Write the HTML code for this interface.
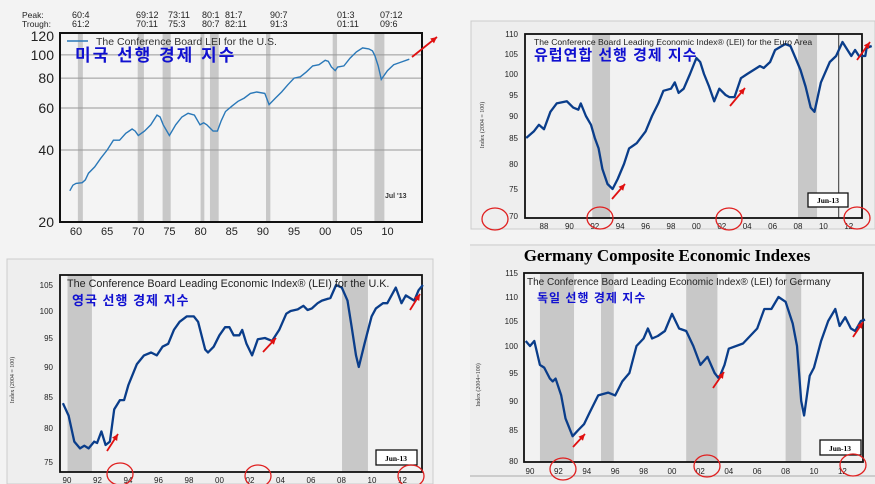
<!DOCTYPE html>
<html><head><meta charset="utf-8"><style>
html,body{margin:0;padding:0;background:#f3f3f3;}
svg{display:block;font-family:"Liberation Sans",sans-serif;}
.k{font-family:"Liberation Sans","Noto Sans CJK KR","NanumGothic",sans-serif;font-weight:bold;fill:#1010d0;}
</style></head><body>
<svg id="s" width="875" height="484" viewBox="0 0 875 484" xmlns="http://www.w3.org/2000/svg"></svg>
<script>
const S=document.getElementById('s');let h='';
h+='<rect x="0" y="0" width="875" height="484" fill="#f3f3f3"/>';
function interp(t,v){for(let i=0;i<t.length-1;i++){if((v>=t[i][0]&&v<=t[i+1][0])||(v<=t[i][0]&&v>=t[i+1][0])){let a=t[i],b=t[i+1];return a[1]+(v-a[0])/(b[0]-a[0])*(b[1]-a[1]);}}let a=t[t.length-2],b=t[t.length-1];return a[1]+(v-a[0])/(b[0]-a[0])*(b[1]-a[1]);}
function path(d,fx,fy){return d.map((p,i)=>(i?'L':'M')+fx(p[0]).toFixed(1)+' '+fy(p[1]).toFixed(1)).join(' ');}
function arrow(x1,y1,x2,y2){let a=Math.atan2(y2-y1,x2-x1),l=7;let p1=[x2-l*Math.cos(a-0.45),y2-l*Math.sin(a-0.45)],p2=[x2-l*Math.cos(a+0.45),y2-l*Math.sin(a+0.45)];
return `<line x1="${x1}" y1="${y1}" x2="${x2}" y2="${y2}" stroke="#e01010" stroke-width="1.8"/><polygon points="${x2},${y2} ${p1[0]},${p1[1]} ${p2[0]},${p2[1]}" fill="#e01010"/>`;}
function circ(x,y){return `<ellipse cx="${x}" cy="${y}" rx="13" ry="11" fill="none" stroke="#e02020" stroke-width="1.3"/>`;}
// ===== US =====
{const fx=y=>76+(y-1960)*6.23, fy=v=>222-Math.log(v/20)/Math.log(6)*186;
h+='<rect x="60" y="33" width="362" height="189" fill="#f4f4f4"/>';
[[1960.3,1961.1],[1969.9,1970.9],[1973.9,1975.2],[1980,1980.6],[1981.5,1982.9],[1990.5,1991.2],[2001.2,2001.9],[2007.9,2009.5]].forEach(r=>h+=`<rect x="${fx(r[0])}" y="34" width="${fx(r[1])-fx(r[0])}" height="188" fill="#c8c8c8"/>`);
[100,80,60,40].forEach(v=>h+=`<line x1="60" x2="422" y1="${fy(v)}" y2="${fy(v)}" stroke="#999" stroke-width="1"/>`);
[[120,36],[100,55],[80,78],[60,108],[40,150],[20,222]].forEach(t=>h+=`<text x="54" y="${t[1]+5}" font-size="14" text-anchor="end" fill="#222">${t[0]}</text>`);
['60','65','70','75','80','85','90','95','00','05','10'].forEach((l,i)=>h+=`<text x="${76+i*31.15}" y="235" font-size="11" text-anchor="middle" fill="#222">${l}</text>`);
h+='<rect x="60" y="33" width="362" height="189" fill="none" stroke="#111" stroke-width="2"/>';
const d=[[1959,27],[1959.5,28.5],[1960,29],[1961,29.2],[1961.5,30],[1962,32],[1963,34],[1964,37],[1965,40],[1966,44],[1967,44],[1968,47],[1969,49],[1969.5,48],[1970,46],[1971,48],[1972,51],[1973,56],[1973.5,55],[1974,51],[1975,46],[1976,51],[1977,55],[1978,57],[1979,56],[1979.9,51],[1980.5,52],[1981,51],[1982,48],[1982.7,48],[1983.3,53],[1984,58],[1985,61],[1986,64],[1987,66],[1988,69],[1989,70],[1990.3,69],[1991,62],[1992,66],[1993,70],[1994,75],[1995,80],[1996,81],[1997,85],[1998,90],[1999,91],[2000,95],[2000.5,94],[2001,89],[2001.6,86],[2002,89],[2003,90],[2004,97],[2005,103],[2006,107],[2007,106],[2007.6,104],[2008,99],[2008.5,90],[2009,79],[2010,86],[2011,91],[2012,93],[2013.5,96]];
h+=`<path d="${path(d,fx,fy)}" fill="none" stroke="#2a78b8" stroke-width="1.4"/>`;
h+='<line x1="67" x2="88" y1="41" y2="41" stroke="#2a78b8" stroke-width="1.5"/><text x="96" y="45" font-size="10.5" fill="#333">The Conference Board LEI for the U.S.</text>';
h+='<text class="k" x="75" y="61" font-size="17" letter-spacing="2">미국 선행 경제 지수</text>';
h+='<text x="385" y="198" font-size="7" font-weight="bold" fill="#333">Jul \'13</text>';
h+='<text x="22" y="18" font-size="8.5" fill="#222">Peak:</text><text x="22" y="27" font-size="8.5" fill="#222">Trough:</text>';
[['60:4','61:2',72],['69:12','70:11',136],['73:11','75:3',168],['80:1','80:7',202],['81:7','82:11',225],['90:7','91:3',270],['01:3','01:11',337],['07:12','09:6',380]].forEach(p=>{h+=`<text x="${p[2]}" y="18" font-size="9" fill="#222">${p[0]}</text><text x="${p[2]}" y="27" font-size="9" fill="#222">${p[1]}</text>`;});
h+=arrow(412,57,437,37);}
// ===== Euro =====
{const fx=y=>544+(y-1988)*12.7;const yt=[[110,34],[105,54],[100,74],[95,95],[90,116],[85,138],[80,164],[75,189],[70,216]];const fy=v=>interp(yt,v);
h+='<rect x="471" y="21" width="404" height="208" fill="#eeeeee" stroke="#ccc"/>';
h+='<rect x="525" y="34" width="337" height="184" fill="#f2f2f2"/>';
[[1991.8,1993.2],[2008,2009.5]].forEach(r=>h+=`<rect x="${fx(r[0])}" y="34" width="${fx(r[1])-fx(r[0])}" height="184" fill="#c8c8c8"/>`);
h+=`<line x1="${fx(2011.2)}" x2="${fx(2011.2)}" y1="34" y2="218" stroke="#555" stroke-width="1.2"/>`;
yt.forEach(t=>h+=`<text x="518" y="${t[1]+3}" font-size="8" text-anchor="end" fill="#222">${t[0]}</text>`);
['88','90','92','94','96','98','00','02','04','06','08','10','12'].forEach((l,i)=>h+=`<text x="${544+i*25.4}" y="229" font-size="8" text-anchor="middle" fill="#222">${l}</text>`);
h+='<text transform="translate(484,125) rotate(-90)" font-size="6" text-anchor="middle" fill="#333" font-family="Liberation Serif">Index (2004 = 100)</text>';
h+='<rect x="525" y="34" width="337" height="184" fill="none" stroke="#111" stroke-width="1.8"/>';
const d=[[1986.6,85],[1987.2,86.5],[1987.6,88],[1988.0,87],[1988.5,91],[1989,93],[1989.8,93.5],[1990.3,92],[1990.7,91.5],[1990.9,93],[1991.3,90],[1991.7,88],[1992,85],[1992.3,83],[1992.6,79],[1993,76],[1993.4,75],[1993.8,77],[1994.3,80],[1994.7,83],[1995.3,84],[1996,86.5],[1996.5,90],[1997,93],[1997.4,96],[1998,96.5],[1998.3,98],[1998.6,95.5],[1999,96.5],[1999.5,100],[2000,104],[2000.3,103],[2000.6,100],[2001,97],[2001.4,93.5],[2001.8,96.5],[2002.3,95],[2002.6,94.5],[2003,94.5],[2003.5,99],[2004,100],[2005,102],[2005.3,101.5],[2005.8,103],[2006.2,106],[2007,107.5],[2007.4,107],[2007.8,104],[2008.2,101],[2008.6,97],[2009,92],[2009.3,91],[2009.8,98],[2010.5,103],[2011,104.5],[2011.5,108],[2011.9,106],[2012.2,104.5],[2012.5,106],[2012.8,104.5],[2013.3,104.5],[2013.4,106.5],[2013.8,107]];
h+=`<path d="${path(d,fx,fy)}" fill="none" stroke="#0a3d8a" stroke-width="2.3" stroke-linejoin="round"/>`;
h+='<text x="534" y="45" font-size="8.6" fill="#222">The Conference Board Leading Economic Index® (LEI) for the Euro Area</text>';
h+='<text class="k" x="534" y="60" font-size="15" letter-spacing="1">유럽연합 선행 경제 지수</text>';
h+='<rect x="808" y="193" width="40" height="14" fill="#fff" stroke="#111" stroke-width="1.3"/><text x="828" y="203" font-size="7.5" font-weight="bold" text-anchor="middle" font-family="Liberation Serif">Jun-13</text>';
h+=arrow(612,199,625,184)+arrow(730,106,745,88)+arrow(857,60,870,42);
h+=circ(495,219)+circ(600,218)+circ(729,219)+circ(857,218);}
// ===== UK =====
{const fx=y=>66+(y-1990)*15.25;const yt=[[105,285],[100,311],[95,338],[90,367],[85,397],[80,428],[75,462],[73.5,472]];const fy=v=>interp(yt,v);
h+='<rect x="7" y="259" width="426" height="225" fill="#eeeeee" stroke="#ccc"/>';
h+='<rect x="60" y="275" width="362" height="197" fill="#f2f2f2"/>';
[[1990.1,1991.7],[2008.1,2009.8]].forEach(r=>h+=`<rect x="${fx(r[0])}" y="275" width="${fx(r[1])-fx(r[0])}" height="197" fill="#c8c8c8"/>`);
yt.slice(0,7).forEach(t=>h+=`<text x="53" y="${t[1]+3}" font-size="8" text-anchor="end" fill="#222">${t[0]}</text>`);
['90','92','94','96','98','00','02','04','06','08','10','12'].forEach((l,i)=>h+=`<text x="${67+i*30.5}" y="483" font-size="8" text-anchor="middle" fill="#222">${l}</text>`);
h+='<text transform="translate(14,380) rotate(-90)" font-size="6" text-anchor="middle" fill="#333" font-family="Liberation Serif">Index (2004 = 100)</text>';
h+='<rect x="60" y="275" width="362" height="197" fill="none" stroke="#111" stroke-width="1.8"/>';
const d=[[1989.8,84],[1990.2,82],[1990.6,78],[1991,77],[1991.3,77.4],[1991.6,77],[1992,78],[1992.2,77.8],[1992.5,79.5],[1992.8,77.5],[1993.1,78],[1993.4,83],[1993.8,84.5],[1994.1,84.5],[1994.4,87],[1995,90.5],[1995.5,92],[1996,92.5],[1996.4,92],[1996.8,93.5],[1997.2,94],[1997.6,96.5],[1998,98],[1998.5,99],[1999,99],[1999.3,98],[1999.8,93],[2000,92.5],[2000.4,93.5],[2000.8,95.5],[2001.2,97],[2001.5,97],[2001.8,95.5],[2002.2,95.5],[2002.4,96.5],[2002.7,94],[2003.1,92],[2003.5,94.8],[2004,95],[2004.5,94.5],[2005,96.5],[2005.5,99.5],[2005.8,100],[2006.3,100.3],[2006.7,101],[2007,100.2],[2007.3,100.5],[2007.7,101.5],[2008,102],[2008.6,102.5],[2009,105],[2009.4,104.5],[2009.8,102],[2010.1,97],[2010.4,92],[2010.6,90],[2011,94],[2011.5,99],[2011.8,100.5],[2012.3,101.5],[2012.6,101.5],[2013.2,104.5],[2013.6,101.5],[2013.9,103],[2014.2,102.5],[2014.5,102],[2014.8,104],[2015.1,105]];
const d2=d.map(p=>[1989.8+(p[0]-1989.8)*(2013.4-1989.8)/(2015.1-1989.8),p[1]]);
h+=`<path d="${path(d2,fx,fy)}" fill="none" stroke="#0a3d8a" stroke-width="2.3" stroke-linejoin="round"/>`;
h+='<text x="67" y="287" font-size="10.8" fill="#222">The Conference Board Leading Economic Index® (LEI) for the U.K.</text>';
h+='<text class="k" x="72" y="305" font-size="13" letter-spacing="1">영국 선행 경제 지수</text>';
h+='<rect x="376" y="450" width="41" height="15" fill="#fff" stroke="#111" stroke-width="1.3"/><text x="396" y="461" font-size="7.5" font-weight="bold" text-anchor="middle" font-family="Liberation Serif">Jun-13</text>';
h+=arrow(107,451,118,434)+arrow(263,352,276,338)+arrow(410,310,420,294);
h+=circ(120,474)+circ(258,476)+circ(411,476);}
// ===== Germany =====
{const fx=y=>530+(y-1990)*14.2;const yt=[[115,273],[110,297],[105,321],[100,346],[95,373],[90,401],[85,430],[80,461]];const fy=v=>interp(yt,v);
h+='<rect x="470" y="244" width="405" height="240" fill="#eeeeee"/>';
h+='<line x1="470" x2="875" y1="245" y2="245" stroke="#ccc"/><line x1="470" x2="875" y1="476" y2="476" stroke="#aaa"/>';
h+='<text x="667" y="261" font-size="17" font-weight="bold" text-anchor="middle" font-family="Liberation Serif">Germany Composite Economic Indexes</text>';
h+='<rect x="524" y="273" width="339" height="189" fill="#f2f2f2"/>';
[[1990.7,1993.1],[1995,1995.9],[2001,2003.2],[2008,2009.1]].forEach(r=>h+=`<rect x="${fx(r[0])}" y="273" width="${fx(r[1])-fx(r[0])}" height="189" fill="#c8c8c8"/>`);
yt.forEach(t=>h+=`<text x="518" y="${t[1]+3}" font-size="8" text-anchor="end" fill="#222">${t[0]}</text>`);
['90','92','94','96','98','00','02','04','06','08','10','12'].forEach((l,i)=>h+=`<text x="${530+i*28.4}" y="474" font-size="8" text-anchor="middle" fill="#222">${l}</text>`);
h+='<text transform="translate(480,385) rotate(-90)" font-size="6" text-anchor="middle" fill="#333" font-family="Liberation Serif">Index (2004=100)</text>';
h+='<rect x="524" y="273" width="339" height="189" fill="none" stroke="#111" stroke-width="1.8"/>';
const d=[[1989.7,101],[1990,100],[1990.3,101],[1990.7,96.5],[1991,96],[1991.4,94],[1991.6,93.5],[1991.8,94],[1992.2,91],[1992.5,87],[1993,84],[1993.4,85],[1993.8,86],[1994.2,88],[1994.8,91],[1995.5,91.5],[1996,91],[1996.5,93.5],[1997,95],[1997.5,100],[1998,101.5],[1998.3,103.5],[1998.6,101.5],[1999,102],[1999.5,103],[2000,106.5],[2000.5,103.5],[2001,103],[2001.5,100],[2002,96.5],[2002.5,98],[2003,95],[2003.3,94],[2003.7,96.5],[2004,99.5],[2005,100.5],[2005.5,102],[2006,103.5],[2006.5,107.5],[2007,107.5],[2007.5,110],[2008,109],[2008.5,104.5],[2008.8,100],[2009.1,90],[2009.3,87.5],[2009.7,94.5],[2010,96],[2010.5,101],[2011,105],[2011.5,107.5],[2011.8,104],[2012.2,105.8],[2012.6,103.5],[2012.9,103],[2013.3,105],[2013.6,105.3]];
h+=`<path d="${path(d,fx,fy)}" fill="none" stroke="#0a3d8a" stroke-width="2.3" stroke-linejoin="round"/>`;
h+='<text x="527" y="285" font-size="10" fill="#222">The Conference Board Leading Economic Index® (LEI) for Germany</text>';
h+='<text class="k" x="537" y="302" font-size="12" letter-spacing="1">독일 선행 경제 지수</text>';
h+='<rect x="820" y="440" width="41" height="15" fill="#fff" stroke="#111" stroke-width="1.3"/><text x="840" y="451" font-size="7.5" font-weight="bold" text-anchor="middle" font-family="Liberation Serif">Jun-13</text>';
h+=arrow(573,447,585,434)+arrow(713,388,724,372)+arrow(853,337,863,322);
h+=circ(563,469)+circ(707,466)+circ(853,465);}
S.innerHTML=h;
</script>
</body></html>
